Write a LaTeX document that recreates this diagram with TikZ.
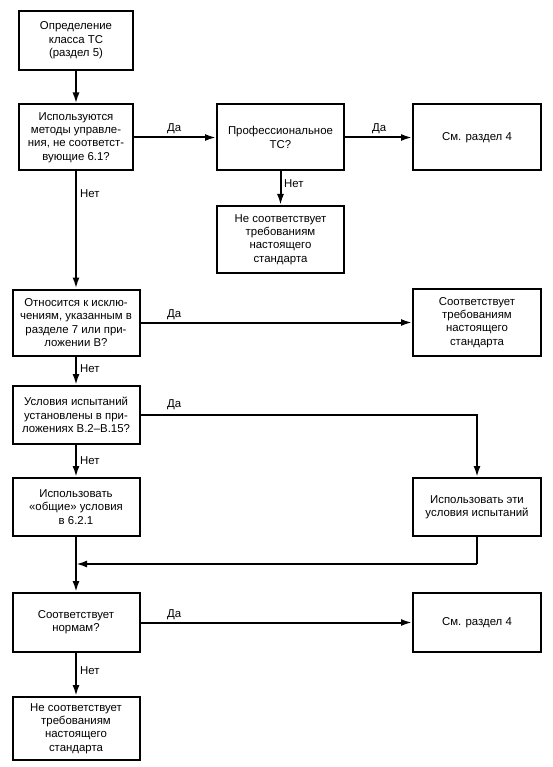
\documentclass[tikz,border=0pt]{standalone}
\usepackage{fontspec}
\setmainfont{Liberation Sans}
\usetikzlibrary{arrows.meta}
\begin{document}
\begin{tikzpicture}[x=1pt,y=-1pt,
  box/.style={draw, line width=2pt, rectangle, align=center, inner sep=2pt,
    font=\fontsize{11.4}{13.3}\selectfont},
  lbl/.style={font=\fontsize{11.4}{13.3}\selectfont, inner sep=0pt},
  arr/.style={line width=2pt, -{Latex[length=11pt,width=7pt]}},
  ln/.style={line width=2pt}]
\useasboundingbox (0,0) rectangle (552,767);
% top column
\node[box, minimum width=114pt, minimum height=59pt] (b1) at (76,40.5) {Определение\\класса ТС\\(раздел 5)};
\node[box, minimum width=114pt, minimum height=66pt] (b2) at (76,137.5) {Используются\\методы управле-\\ния, не соответст-\\вующие 6.1?};
\node[box, minimum width=127pt, minimum height=66pt] (prof) at (280.5,137.5) {Профессиональное\\ТС?};
\node[box, minimum width=128pt, minimum height=66pt] (see1) at (477,137.5) {См. раздел 4};
\node[box, minimum width=127pt, minimum height=67pt] (nc1) at (280.5,239.5) {Не соответствует\\требованиям\\настоящего\\стандарта};
% lower column
\node[box, minimum width=127pt, minimum height=66pt] (b3) at (76,322.5) {Относится к исклю-\\чениям, указанным в\\разделе 7 или при-\\ложении В?};
\node[box, minimum width=128pt, minimum height=67pt] (comp) at (477,322.5) {Соответствует\\требованиям\\настоящего\\стандарта};
\node[box, minimum width=127pt, minimum height=58pt] (b4) at (76,415) {Условия испытаний\\установлены в при-\\ложениях В.2–В.15?};
\node[box, minimum width=127pt, minimum height=58pt] (b5) at (76,507) {Использовать\\«общие» условия\\в 6.2.1};
\node[box, minimum width=128pt, minimum height=58pt] (b6) at (477,507) {Использовать эти\\условия испытаний};
\node[box, minimum width=127pt, minimum height=59pt] (b7) at (76,622.5) {Соответствует\\нормам?};
\node[box, minimum width=128pt, minimum height=59pt] (see2) at (477,622.5) {См. раздел 4};
\node[box, minimum width=127pt, minimum height=63pt] (b9) at (76,728.5) {Не соответствует\\требованиям\\настоящего\\стандарта};
% helper coordinates
\coordinate (c4) at (477,415);
\coordinate (m) at (76,564);
\coordinate (m6) at (477,564);
% connectors
\draw[arr] (b1.south) -- (b2.north);
\draw[arr] (b2.east) -- (prof.west);
\draw[arr] (prof.east) -- (see1.west);
\draw[arr] (prof.south) -- (nc1.north);
\draw[arr] (b2.south) -- (b3.north);
\draw[arr] (b3.east) -- (b3.east -| comp.west);
\draw[arr] (b3.south) -- (b4.north);
\draw[arr] (b4.east) -- (c4) -- (b6.north);
\draw[arr] (b4.south) -- (b5.north);
\draw[arr] (b5.south) -- (b7.north);
\draw[ln] (b6.south) -- (m6);
\draw[arr] (m6) -- (m);
\draw[arr] (b7.east) -- (see2.west);
\draw[arr] (b7.south) -- (b9.north);
% labels
\node[lbl, anchor=base west] (l1) at (167,132) {Да};
\node[lbl, anchor=base west] (l2) at (372,132) {Да};
\node[lbl, anchor=base west] (l3) at (80,198) {Нет};
\node[lbl, anchor=base west] (l4) at (284,188) {Нет};
\node[lbl, anchor=base west] (l5) at (167,317) {Да};
\node[lbl, anchor=base west] (l6) at (80,372) {Нет};
\node[lbl, anchor=base west] (l7) at (167,407) {Да};
\node[lbl, anchor=base west] (l8) at (80,464) {Нет};
\node[lbl, anchor=base west] (l9) at (167,617) {Да};
\node[lbl, anchor=base west] (l10) at (80,674) {Нет};
\end{tikzpicture}
\end{document}
